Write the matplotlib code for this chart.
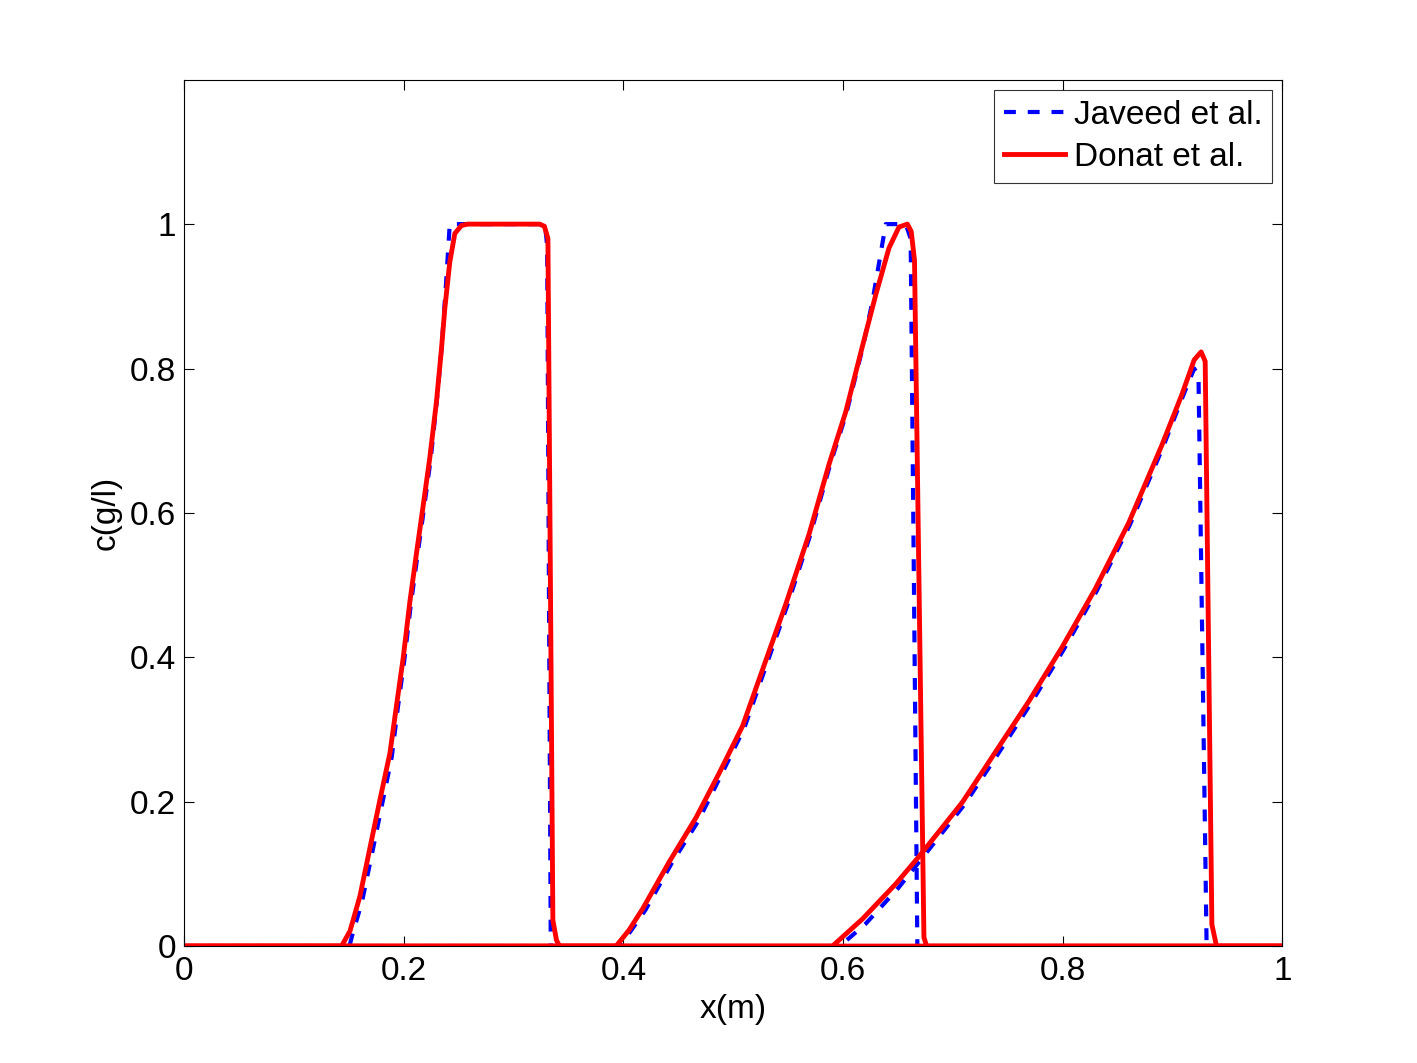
import matplotlib
matplotlib.use("Agg")
import matplotlib.pyplot as plt

plt.rcParams['font.family'] = ['Liberation Sans', 'DejaVu Sans']

# Javeed et al. (three snapshots)
jav_x1 = [0, 0.1505, 0.153, 0.162, 0.171, 0.180, 0.189, 0.1945, 0.2005, 0.2065, 0.2125, 0.2185,
          0.2245, 0.2300, 0.2345, 0.2385, 0.2418, 0.3285, 0.3305, 0.3338, 1]
jav_c1 = [0, 0, 0.015, 0.062, 0.128, 0.195, 0.262, 0.330, 0.397, 0.475, 0.542, 0.608,
          0.675, 0.755, 0.830, 0.920, 1.0, 1.0, 0.97, 0, 0]
jav_x2 = [0, 0.397, 0.420, 0.444, 0.468, 0.489, 0.510, 0.531, 0.549, 0.570, 0.588, 0.603,
          0.618, 0.6267, 0.6388, 0.657, 0.6615, 0.6676, 1]
jav_c2 = [0, 0, 0.050, 0.115, 0.173, 0.237, 0.302, 0.393, 0.471, 0.569, 0.666, 0.738,
          0.830, 0.893, 1.0, 1.0, 0.98, 0, 0]
jav_x3 = [0, 0.597, 0.620, 0.650, 0.671, 0.7105, 0.741, 0.771, 0.801, 0.831, 0.861, 0.891,
          0.909, 0.9197, 0.9236, 0.931, 1]
jav_c3 = [0, 0, 0.030, 0.080, 0.120, 0.196, 0.266, 0.336, 0.411, 0.492, 0.583, 0.690,
          0.760, 0.800, 0.790, 0, 0]

# Donat et al. (three snapshots)
don_x1 = [0, 0.1433, 0.151, 0.160, 0.169, 0.178, 0.1873, 0.1933, 0.1994, 0.2055, 0.2115, 0.2176,
          0.2236, 0.2297, 0.2342, 0.2373, 0.2418, 0.2464, 0.2524, 0.258, 0.3236, 0.328, 0.3312,
          0.3357, 0.339, 0.3418, 1]
don_c1 = [0, 0, 0.021, 0.069, 0.135, 0.201, 0.267, 0.333, 0.399, 0.477, 0.544, 0.610,
          0.676, 0.754, 0.826, 0.883, 0.947, 0.987, 0.998, 1.0, 1.0, 0.997, 0.980,
          0.036, 0.008, 0, 0]
don_x2 = [0, 0.3933, 0.405, 0.4176, 0.4418, 0.4661, 0.4873, 0.5085, 0.5297, 0.5479, 0.5691,
          0.5873, 0.6024, 0.6176, 0.6297, 0.6418, 0.6509, 0.6585, 0.662, 0.665, 0.6736, 0.676, 1]
don_c2 = [0, 0, 0.022, 0.052, 0.117, 0.178, 0.240, 0.305, 0.396, 0.474, 0.571,
          0.668, 0.740, 0.831, 0.902, 0.967, 0.996, 1.0, 0.99, 0.95, 0.012, 0, 0]
don_x3 = [0, 0.5903, 0.6176, 0.6479, 0.6691, 0.7085, 0.7388, 0.7691, 0.7994, 0.8297, 0.860,
          0.8903, 0.9085, 0.9197, 0.926, 0.9297, 0.9358, 0.940, 1]
don_c3 = [0, 0, 0.0375, 0.086, 0.124, 0.199, 0.269, 0.339, 0.414, 0.495, 0.586,
          0.694, 0.764, 0.812, 0.823, 0.810, 0.030, 0, 0]

xticks = [0, 0.2, 0.4, 0.6, 0.8, 1]
xtick_labels = ['0', '0.2', '0.4', '0.6', '0.8', '1']
yticks = [0, 0.2, 0.4, 0.6, 0.8, 1]
ytick_labels = ['0', '0.2', '0.4', '0.6', '0.8', '1']

fig = plt.figure(figsize=(14.17, 10.63), dpi=100)
ax = fig.add_axes([0.13, 0.11, 0.775, 0.815])

for i, (x, c) in enumerate([(jav_x1, jav_c1), (jav_x2, jav_c2), (jav_x3, jav_c3)]):
    ax.plot(x, c, color='#0000ff', lw=3.0, dashes=(2.85, 2.85),
            label='Javeed et al.' if i == 0 else None)
for i, (x, c) in enumerate([(don_x1, don_c1), (don_x2, don_c2), (don_x3, don_c3)]):
    ax.plot(x, c, color='#ff0000', lw=3.5, solid_joinstyle='round',
            label='Donat et al.' if i == 0 else None)

ax.set_xlim(0, 1)
ax.set_ylim(0, 1.2)
ax.set_xticks(xticks)
ax.set_xticklabels(xtick_labels)
ax.set_yticks(yticks)
ax.set_yticklabels(ytick_labels)
ax.tick_params(direction='in', length=7, width=0.8, top=True, right=True,
               labelsize=24, colors='black')
ax.tick_params(axis='x', pad=7)
ax.tick_params(axis='y', pad=6)
for s in ax.spines.values():
    s.set_linewidth(0.8)

ax.set_xlabel('x(m)', fontsize=24, labelpad=5)
ax.set_ylabel('c(g/l)', fontsize=24, labelpad=6)

leg = ax.legend(loc='upper right', fontsize=24, handlelength=1.85, handletextpad=0.25,
                borderpad=0.3, labelspacing=0.33, borderaxespad=0.3, fancybox=False)
leg.get_frame().set_edgecolor('black')
leg.get_frame().set_linewidth(0.8)

fig.savefig('out.png', dpi=100)
